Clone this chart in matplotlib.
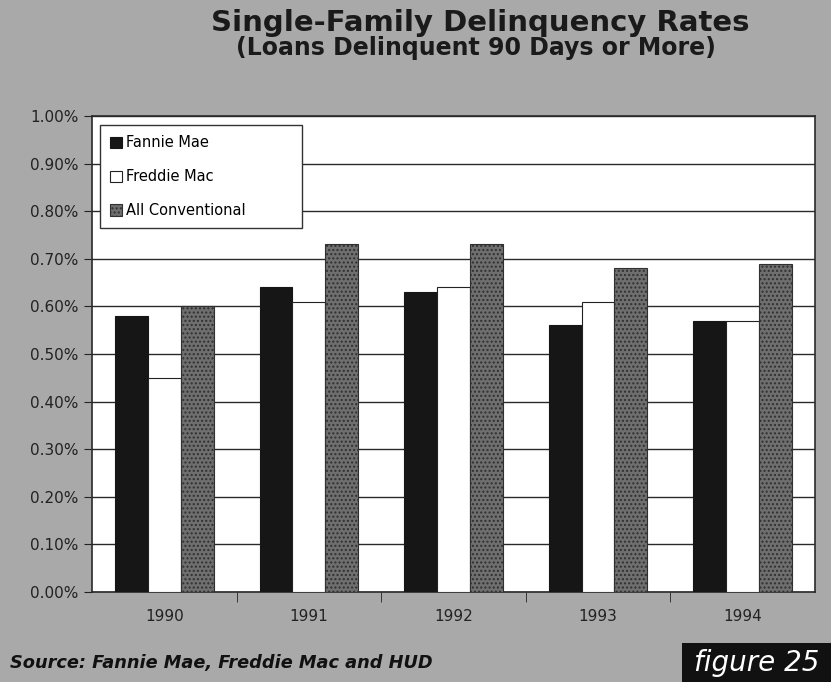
import matplotlib.pyplot as plt
import numpy as np
from matplotlib.ticker import FuncFormatter

years = ['1990', '1991', '1992', '1993', '1994']
fannie = [0.58, 0.64, 0.63, 0.56, 0.57]
freddie = [0.45, 0.61, 0.64, 0.61, 0.57]
conventional = [0.60, 0.73, 0.73, 0.68, 0.69]
series_names = ['Fannie Mae', 'Freddie Mac', 'All Conventional']

plt.rcParams['hatch.color'] = '#4a4a4a'
bg = '#a9a9a9'
fig = plt.figure(figsize=(8.31, 6.82), dpi=100)
fig.patch.set_facecolor(bg)

ax = fig.add_axes([0.1107, 0.132, 0.870, 0.698])
ax.set_facecolor('white')

x = np.arange(len(years))
w = 0.227
ax.bar(x - w, fannie, w, color='#161616', edgecolor='#161616', linewidth=0.8, label=series_names[0], zorder=3)
ax.bar(x, freddie, w, color='white', edgecolor='#222222', linewidth=0.8, label=series_names[1], zorder=3)
ax.bar(x + w, conventional, w, color='#6f6f6f', edgecolor='#303030', linewidth=0.8,
       hatch='....', label=series_names[2], zorder=3)

ax.set_xlim(-0.5, len(years) - 0.5)
ax.set_ylim(0, 1.0)
ax.set_yticks(np.arange(0, 1.01, 0.1))
ax.yaxis.set_major_formatter(FuncFormatter(lambda v, p: '%.2f%%' % v))
ax.set_xticks(x)
ax.set_xticklabels(years)
ax.set_xticks(np.arange(0.5, len(years) - 0.5, 1), minor=True)
ax.tick_params(axis='x', which='major', length=0, pad=12, labelsize=11, labelcolor='#222222')
ax.tick_params(axis='x', which='minor', length=7, direction='out', color='#222222')
ax.tick_params(axis='y', length=6, direction='out', labelsize=11, labelcolor='#222222', color='#222222')

ax.grid(axis='y', color='#2a2a2a', linewidth=1.0, zorder=1)
for sp in ax.spines.values():
    sp.set_color('#2a2a2a')
    sp.set_linewidth(1.2)

leg = ax.legend(loc='upper left', bbox_to_anchor=(0.011, 0.774, 0.279, 0.207), mode='expand',
                borderaxespad=0, fancybox=False, edgecolor='#333333', framealpha=1, fontsize=10.5,
                labelspacing=1.3, handlelength=0.8, handleheight=0.8, handletextpad=0.3,
                borderpad=0.7)
leg.get_frame().set_linewidth(1.0)

fig.text(0.578, 0.966, 'Single-Family Delinquency Rates', ha='center', va='center',
         fontsize=21, fontweight='bold', color='#1a1a1a')
fig.text(0.573, 0.929, '(Loans Delinquent 90 Days or More)', ha='center', va='center',
         fontsize=17, fontweight='bold', color='#1a1a1a')

fig.text(0.012, 0.028, 'Source: Fannie Mae, Freddie Mac and HUD', ha='left', va='center',
         fontsize=12.8, fontweight='bold', style='italic', color='#111111')

fig.patches.append(plt.Rectangle((682 / 831, 0), 149 / 831, 39 / 682, transform=fig.transFigure,
                                 facecolor='#111111', edgecolor='none'))
fig.text(0.91, 0.028, 'figure 25', ha='center', va='center', fontsize=20,
         style='italic', color='white')

fig.savefig('out.png', dpi=100, facecolor=fig.get_facecolor())
